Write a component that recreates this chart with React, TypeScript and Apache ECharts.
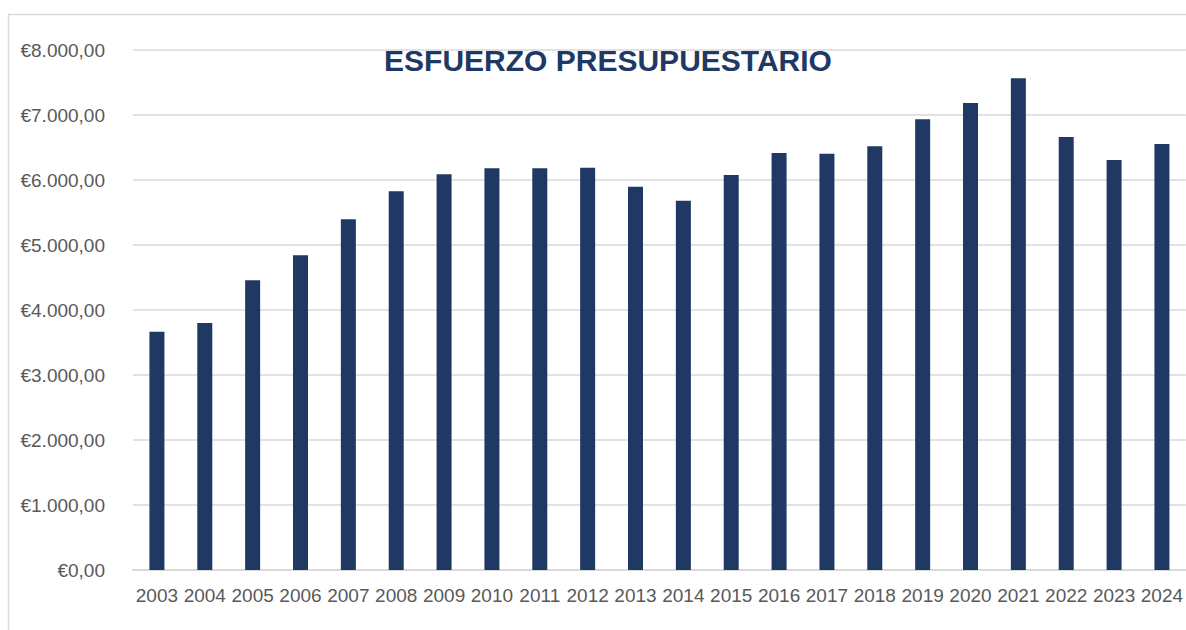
import React, { useEffect, useRef } from "react";
import * as echarts from "echarts";

const years = ["2003","2004","2005","2006","2007","2008","2009","2010","2011","2012","2013","2014","2015","2016","2017","2018","2019","2020","2021","2022","2023","2024"];
const values = [3666, 3800, 4456, 4841, 5395, 5826, 6087, 6179, 6179, 6190, 5897, 5682, 6077, 6415, 6405, 6518, 6933, 7185, 7564, 6662, 6308, 6554];
const titleText = "ESFUERZO PRESUPUESTARIO";

const FONT = "'Liberation Sans', Arial, sans-serif";

function fmtEuro(v: number): string {
  const int = Math.round(v).toString().replace(/\B(?=(\d{3})+(?!\d))/g, ".");
  return "€" + int + ",00";
}

export default function App() {
  const ref = useRef<HTMLDivElement>(null);
  useEffect(() => {
    if (!ref.current) return;
    const chart = echarts.init(ref.current, null, { renderer: "svg" });
    chart.setOption({
      animation: false,
      backgroundColor: "#ffffff",
      title: {
        text: titleText,
        left: 603,
        top: 40,
        textAlign: "center",
        textStyle: {
          fontFamily: FONT,
          fontWeight: "bold",
          fontSize: 30,
          color: "#203864",
        },
      },
      graphic: [
        {
          type: "rect",
          shape: { x: 8.5, y: 14.5, width: 1200, height: 700 },
          style: { fill: "none", stroke: "#d9d9d9", lineWidth: 1.5 },
          silent: true,
          z: -10,
        },
      ],
      grid: { left: 133, top: 50, width: 1056, height: 520, containLabel: false },
      xAxis: {
        type: "category",
        data: years,
        axisLine: { show: true, lineStyle: { color: "#d9d9d9", width: 2 } },
        axisTick: { show: false },
        axisLabel: {
          interval: 0,
          margin: 16,
          color: "#595959",
          fontFamily: FONT,
          fontSize: 19,
        },
      },
      yAxis: {
        type: "value",
        min: 0,
        max: 8000,
        interval: 1000,
        axisLine: { show: false },
        axisTick: { show: false },
        splitLine: { lineStyle: { color: "#d9d9d9", width: 1.5 } },
        axisLabel: {
          margin: 28,
          color: "#595959",
          fontFamily: FONT,
          fontSize: 19,
          formatter: (v: number) => fmtEuro(v),
        },
      },
      series: [
        {
          type: "bar",
          data: values,
          barWidth: 15,
          itemStyle: { color: "#203864" },
        },
      ],
    });
    return () => chart.dispose();
  }, []);
  return (
    <div
      ref={ref}
      style={{ position: "absolute", left: 0, top: 0, width: 1186, height: 630 }}
    />
  );
}
